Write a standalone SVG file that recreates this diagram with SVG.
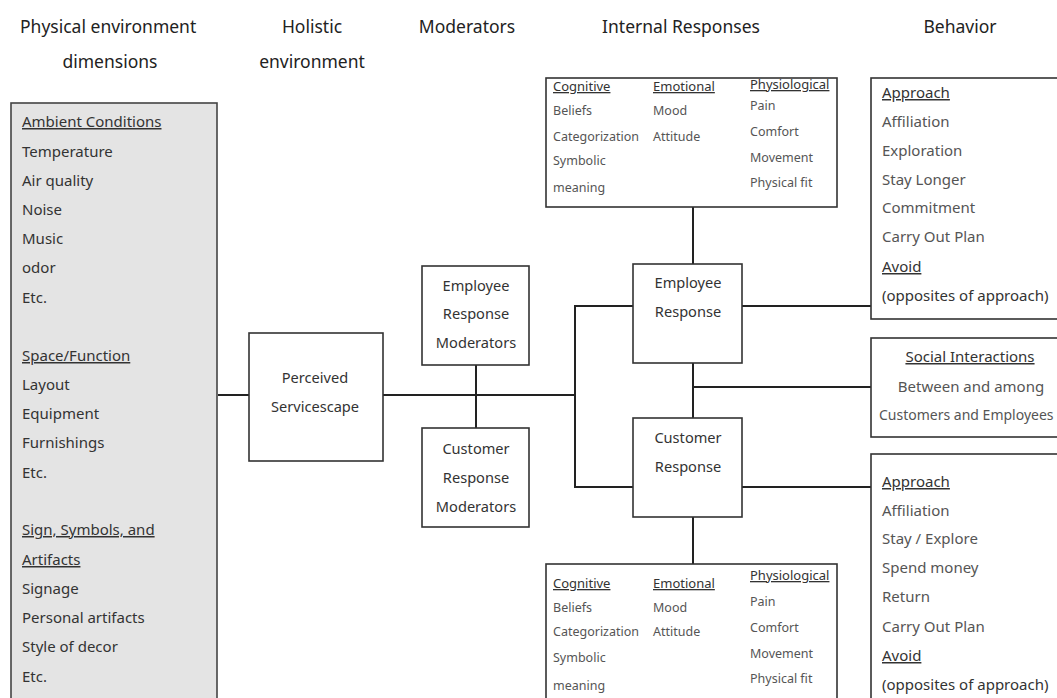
<svg xmlns="http://www.w3.org/2000/svg" width="1057" height="698" viewBox="0 0 1057 698">
<style>
.box{fill:#fff;stroke:#333;stroke-width:1.6}
.gray{fill:#e4e4e4;stroke:#444;stroke-width:1.6}
.ln{fill:none;stroke:#222;stroke-width:2}
text{font-family:"Noto Sans","Open Sans",sans-serif;fill:#333}
.h{font-size:17.5px;fill:#222}
.t{font-size:15px}
.m{font-size:14.6px}
.c{text-anchor:middle}
.s{font-size:12.5px;fill:#555}
.sh{font-size:13px;fill:#333;text-decoration:underline}
.u{text-decoration:underline}
.g{fill:#555}
</style>
<rect width="1057" height="698" fill="#fff"/>
<g id="headers">
<text class="h" x="20" y="33">Physical environment</text>
<text class="h c" x="110" y="68">dimensions</text>
<text class="h c" x="312" y="33">Holistic</text>
<text class="h c" x="312" y="68">environment</text>
<text class="h c" x="467" y="33">Moderators</text>
<text class="h c" x="681" y="33">Internal Responses</text>
<text class="h c" x="960" y="33">Behavior</text>
</g>
<g id="connectors">
<line class="ln" x1="218" y1="395" x2="249" y2="395"/>
<line class="ln" x1="383" y1="395" x2="575" y2="395"/>
<line class="ln" x1="476" y1="365" x2="476" y2="428"/>
<polyline class="ln" points="633,306 575,306 575,487 633,487"/>
<line class="ln" x1="693" y1="207" x2="693" y2="264"/>
<line class="ln" x1="693" y1="363" x2="693" y2="418"/>
<line class="ln" x1="693" y1="387" x2="871" y2="387"/>
<line class="ln" x1="742" y1="306" x2="871" y2="306"/>
<line class="ln" x1="742" y1="487" x2="871" y2="487"/>
<line class="ln" x1="693" y1="517" x2="693" y2="564"/>
</g>
<g id="physical-dimensions">
<rect class="gray" x="11" y="103" width="206" height="610"/>
<text class="t u" x="22" y="127">Ambient Conditions</text>
<text class="t" x="22" y="157">Temperature</text>
<text class="t" x="22" y="186">Air quality</text>
<text class="t" x="22" y="215">Noise</text>
<text class="t" x="22" y="244">Music</text>
<text class="t" x="22" y="273">odor</text>
<text class="t" x="22" y="303">Etc.</text>
<text class="t u" x="22" y="361">Space/Function</text>
<text class="t" x="22" y="390">Layout</text>
<text class="t" x="22" y="419">Equipment</text>
<text class="t" x="22" y="448">Furnishings</text>
<text class="t" x="22" y="478">Etc.</text>
<text class="t u" x="22" y="535">Sign, Symbols, and</text>
<text class="t u" x="22" y="565">Artifacts</text>
<text class="t" x="22" y="594">Signage</text>
<text class="t" x="22" y="623">Personal artifacts</text>
<text class="t" x="22" y="652">Style of decor</text>
<text class="t" x="22" y="682">Etc.</text>
</g>
<g id="perceived-servicescape">
<rect class="box" x="249" y="333" width="134" height="128"/>
<text class="m c" x="315" y="383">Perceived</text>
<text class="m c" x="315" y="412">Servicescape</text>
</g>
<g id="employee-moderators">
<rect class="box" x="422" y="266" width="107" height="99"/>
<text class="m c" x="476" y="291">Employee</text>
<text class="m c" x="476" y="319">Response</text>
<text class="m c" x="476" y="348">Moderators</text>
</g>
<g id="customer-moderators">
<rect class="box" x="422" y="428" width="107" height="99"/>
<text class="m c" x="476" y="454">Customer</text>
<text class="m c" x="476" y="483">Response</text>
<text class="m c" x="476" y="512">Moderators</text>
</g>
<g id="employee-internal">
<rect class="box" x="546" y="78" width="291" height="129"/>
<text class="sh" x="553" y="91">Cognitive</text>
<text class="sh" x="653" y="91">Emotional</text>
<text class="sh" x="750" y="89">Physiological</text>
<text class="s" x="553" y="115">Beliefs</text>
<text class="s" x="553" y="141">Categorization</text>
<text class="s" x="553" y="165">Symbolic</text>
<text class="s" x="553" y="192">meaning</text>
<text class="s" x="653" y="115">Mood</text>
<text class="s" x="653" y="141">Attitude</text>
<text class="s" x="750" y="110">Pain</text>
<text class="s" x="750" y="136">Comfort</text>
<text class="s" x="750" y="162">Movement</text>
<text class="s" x="750" y="187">Physical fit</text>
</g>
<g id="employee-response">
<rect class="box" x="633" y="264" width="109" height="99"/>
<text class="m c" x="688" y="288">Employee</text>
<text class="m c" x="688" y="317">Response</text>
</g>
<g id="customer-response">
<rect class="box" x="633" y="418" width="109" height="99"/>
<text class="m c" x="688" y="443">Customer</text>
<text class="m c" x="688" y="472">Response</text>
</g>
<g id="customer-internal">
<rect class="box" x="546" y="564" width="291" height="150"/>
<text class="sh" x="553" y="588">Cognitive</text>
<text class="sh" x="653" y="588">Emotional</text>
<text class="sh" x="750" y="580">Physiological</text>
<text class="s" x="553" y="612">Beliefs</text>
<text class="s" x="553" y="636">Categorization</text>
<text class="s" x="553" y="662">Symbolic</text>
<text class="s" x="553" y="690">meaning</text>
<text class="s" x="653" y="612">Mood</text>
<text class="s" x="653" y="636">Attitude</text>
<text class="s" x="750" y="606">Pain</text>
<text class="s" x="750" y="632">Comfort</text>
<text class="s" x="750" y="658">Movement</text>
<text class="s" x="750" y="683">Physical fit</text>
</g>
<g id="employee-behavior">
<rect class="box" x="871" y="78" width="200" height="241"/>
<text class="t u" x="882" y="98">Approach</text>
<text class="t g" x="882" y="127">Affiliation</text>
<text class="t g" x="882" y="156">Exploration</text>
<text class="t g" x="882" y="185">Stay Longer</text>
<text class="t g" x="882" y="213">Commitment</text>
<text class="t g" x="882" y="242">Carry Out Plan</text>
<text class="t u" x="882" y="272">Avoid</text>
<text class="t" x="882" y="301">(opposites of approach)</text>
</g>
<g id="social-interactions">
<rect class="box" x="871" y="338" width="200" height="99"/>
<text class="t c u" x="970" y="362">Social Interactions</text>
<text class="t c g" x="971" y="392">Between and among</text>
<text class="g" x="879" y="420" font-size="14px">Customers and Employees</text>
</g>
<g id="customer-behavior">
<rect class="box" x="871" y="454" width="200" height="260"/>
<text class="t u" x="882" y="487">Approach</text>
<text class="t g" x="882" y="516">Affiliation</text>
<text class="t g" x="882" y="544">Stay / Explore</text>
<text class="t g" x="882" y="573">Spend money</text>
<text class="t g" x="882" y="602">Return</text>
<text class="t g" x="882" y="632">Carry Out Plan</text>
<text class="t u" x="882" y="661">Avoid</text>
<text class="t" x="882" y="690">(opposites of approach)</text>
</g>
</svg>
